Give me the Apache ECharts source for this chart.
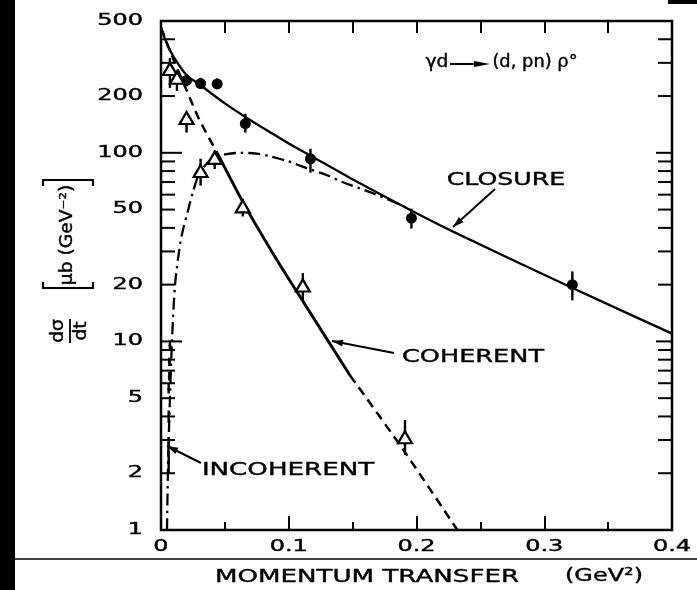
<!DOCTYPE html>
<html>
<head>
<meta charset="utf-8">
<script src="https://cdn.jsdelivr.net/npm/echarts@6/dist/echarts.min.js"></script>
<style>
  html, body { margin: 0; padding: 0; background: #fff; }
  #chart { width: 697px; height: 590px; }
</style>
</head>
<body>
<div id="chart"></div>
<script>
// γd → (d,pn)ρ° : dσ/dt versus momentum transfer t, log scale

// Axis ranges and tick labels
const xMin = 0, xMax = 0.4;
const yMin = 1, yMax = 500;
const xTickLabels = ['0', '0.1', '0.2', '0.3', '0.4'];
const yTickLabels = ['500', '200', '100', '50', '20', '10', '5', '2', '1'];
const yTickValues = [2, 3, 4, 5, 6, 7, 8, 9, 10, 20, 30, 40, 50, 60, 70, 80, 90, 100, 200, 300, 400];

// Closure data (filled circles): t, dσ/dt, error bar low / high
const closureT  = [0.02, 0.031, 0.044, 0.066, 0.117, 0.196, 0.322];
const closureY  = [242, 233, 232, 143, 93, 45, 20];
const closureLo = [225, 218, 218, 128, 78.5, 39.7, 16.5];
const closureHi = [262, 250, 248, 161, 105, 50.6, 23.5];

// Coherent data (open triangles)
const coherentT  = [0.007, 0.0125, 0.02, 0.031, 0.042, 0.064, 0.111, 0.191];
const coherentY  = [278, 250, 153, 80, 94, 52, 19.8, 3.1];
const coherentLo = [221, 213, 128, 67, 82, 46, 16.5, 2.5];
const coherentHi = [318, 265, 163, 93, 103, 57, 23, 3.83];

// Incoherent data near t = 0
const incoherentT  = [0.007, 0.0065, 0.0065, 0.006, 0.006, 0.006, 0.006];
const incoherentY  = [9.5, 7.8, 6.5, 5.6, 4.0, 2.9, 2.3];
const incoherentLo = [9.0, 7.4, 6.2, 5.3, 3.7, 2.75, 2.0];
const incoherentHi = [10.1, 8.2, 6.9, 6.0, 4.3, 3.1, 2.65];

// Model curves
const closureCurveT = [0, 0.005, 0.01, 0.02, 0.03, 0.04, 0.05, 0.066, 0.085, 0.1, 0.117, 0.148, 0.197, 0.229, 0.32, 0.4];
const closureCurveY = [460, 374, 322, 258, 231, 205, 183, 155, 129, 112, 96.6, 73.6, 49, 38.1, 19.5, 11.0];

const coherentCurveT = [0, 0.01, 0.02, 0.03, 0.044, 0.066, 0.088, 0.106, 0.148, 0.189, 0.232];
const coherentCurveY = [460, 310, 215, 150, 100, 52, 29, 18.5, 6.6, 2.7, 1.0];
const coherentSolidFrom = 0.044, coherentSolidTo = 0.148;

const incoherentCurveT = [0.0047, 0.0055, 0.007, 0.0086, 0.011, 0.015, 0.0172, 0.021, 0.025, 0.03, 0.036, 0.042, 0.05, 0.062, 0.075, 0.085, 0.1, 0.114, 0.13, 0.142, 0.166, 0.193];
const incoherentCurveY = [1.0, 2.2, 5, 10, 20, 33, 39, 49, 62, 78, 88, 95, 98, 100, 99, 96, 90, 83, 76, 70, 61, 51];

const FONT = '"DejaVu Sans", "Noto Sans", sans-serif';
const INK = '#000';

const zip = (a, b) => a.map((v, i) => [v, b[i]]);
const zip3 = (a, b, c) => a.map((v, i) => [v, b[i], c[i]]);

const coherentPts = zip(coherentCurveT, coherentCurveY);
const coherentEarly = coherentPts.filter(p => p[0] <= coherentSolidFrom);
const coherentMid = coherentPts.filter(p => p[0] >= coherentSolidFrom && p[0] <= coherentSolidTo);
const coherentLate = coherentPts.filter(p => p[0] >= coherentSolidTo);

function errorBars(params, api) {
  const x = api.value(0);
  const a = api.coord([x, api.value(1)]);
  const b = api.coord([x, api.value(2)]);
  return {
    type: 'line',
    shape: { x1: a[0], y1: a[1], x2: b[0], y2: b[1] },
    style: { stroke: INK, lineWidth: 2.4 }
  };
}

function errorSeries(data) {
  return {
    type: 'custom', renderItem: errorBars, data: data,
    encode: { x: 0, y: [1, 2] }, z: 3, silent: true
  };
}

// Arrowhead polygon pointing at (tx, ty) coming from (fx, fy)
function arrowHead(tx, ty, fx, fy, len, half) {
  const dx = tx - fx, dy = ty - fy;
  const d = Math.hypot(dx, dy);
  const ux = dx / d, uy = dy / d;
  const bx = tx - ux * len, by = ty - uy * len;
  return {
    type: 'polygon',
    shape: { points: [[tx, ty], [bx - uy * half, by + ux * half], [bx + uy * half, by - ux * half]] },
    style: { fill: INK }
  };
}

function leader(x1, y1, x2, y2) {
  return [
    { type: 'line', shape: { x1: x1, y1: y1, x2: x2, y2: y2 }, style: { stroke: INK, lineWidth: 2 } },
    arrowHead(x2, y2, x1, y1, 11, 3.5)
  ];
}

function label(text, x, y, size, sx, align) {
  return {
    type: 'text', x: x, y: y, scaleX: sx,
    style: { text: text, fontSize: size, fontFamily: FONT, fill: INK, align: align || 'center', verticalAlign: 'middle',
             stroke: INK, lineWidth: 0.4 }
  };
}

const chart = echarts.init(document.getElementById('chart'), null, { renderer: 'canvas' });

const option = {
  backgroundColor: '#fff',
  animation: false,
  grid: { left: 161, right: 25, top: 21, bottom: 60, show: true, borderColor: INK, borderWidth: 2.5, backgroundColor: 'transparent' },
  xAxis: [
    {
      type: 'value', position: 'bottom', min: xMin, max: xMax, interval: 0.1,
      axisLine: { show: false },
      axisTick: { show: true, inside: true, length: 14, lineStyle: { color: INK, width: 2 } },
      minorTick: { show: true, splitNumber: 2, length: 8, lineStyle: { color: INK, width: 2 } },
      axisLabel: { show: false }, splitLine: { show: false }, minorSplitLine: { show: false }
    },
    {
      type: 'value', position: 'top', min: xMin, max: xMax, interval: 0.1,
      axisLine: { show: false },
      axisTick: { show: true, inside: true, length: 12, lineStyle: { color: INK, width: 2 } },
      minorTick: { show: true, splitNumber: 2, length: 12, lineStyle: { color: INK, width: 2 } },
      axisLabel: { show: false }, splitLine: { show: false }, minorSplitLine: { show: false }
    }
  ],
  yAxis: {
    type: 'log', logBase: 10, min: yMin, max: yMax,
    axisLine: { show: false }, axisTick: { show: false }, axisLabel: { show: false }, splitLine: { show: false }
  },
  series: [
    // Closure model
    { type: 'line', data: zip(closureCurveT, closureCurveY), smooth: 0.3, symbol: 'none',
      lineStyle: { color: INK, width: 2.3 }, z: 2, silent: true },
    // Coherent model: dashed / solid / dashed
    { type: 'line', data: coherentEarly, smooth: 0.3, symbol: 'none',
      lineStyle: { color: INK, width: 2.5, type: [9, 6] }, z: 2, silent: true },
    { type: 'line', data: coherentMid, smooth: 0.3, symbol: 'none',
      lineStyle: { color: INK, width: 2.9 }, z: 2, silent: true },
    { type: 'line', data: coherentLate, smooth: 0.3, symbol: 'none',
      lineStyle: { color: INK, width: 2.5, type: [9, 6] }, z: 2, silent: true },
    // Incoherent model (dash-dot)
    { type: 'line', data: zip(incoherentCurveT, incoherentCurveY), smooth: 0.3, symbol: 'none',
      lineStyle: { color: INK, width: 2.3, type: [12, 5, 2.5, 5] }, z: 2, silent: true },

    errorSeries(zip3(closureT, closureLo, closureHi)),
    errorSeries(zip3(coherentT, coherentLo, coherentHi)),
    errorSeries(zip3(incoherentT, incoherentLo, incoherentHi)),

    { type: 'scatter', data: zip(closureT, closureY), symbol: 'circle', symbolSize: 11,
      itemStyle: { color: INK, opacity: 1 }, z: 4, silent: true },
    { type: 'scatter', data: zip(coherentT, coherentY), symbol: 'triangle', symbolSize: [14, 12],
      itemStyle: { color: '#fff', borderColor: INK, borderWidth: 2.2, opacity: 1 }, z: 4, silent: true },
    { type: 'scatter', data: zip(incoherentT, incoherentY), symbol: 'circle', symbolSize: 3,
      itemStyle: { color: INK, opacity: 1 }, z: 4, silent: true },

    // Log-axis ticks on the left and right frame edges
    {
      type: 'custom', silent: true, z: 5,
      data: yTickValues.map(v => [xMin, v]),
      renderItem: function (params, api) {
        const v = api.value(1);
        const L = api.coord([xMin, v]);
        const R = api.coord([xMax, v]);
        const decade = Math.abs(Math.log10(v) - Math.round(Math.log10(v))) < 1e-9;
        const lenL = decade ? 21 : 14;
        const lenR = decade ? 16 : 14;
        return {
          type: 'group',
          children: [
            { type: 'line', shape: { x1: L[0], y1: L[1], x2: L[0] + lenL, y2: L[1] }, style: { stroke: INK, lineWidth: 2 } },
            { type: 'line', shape: { x1: R[0], y1: R[1], x2: R[0] - lenR, y2: R[1] }, style: { stroke: INK, lineWidth: 2 } }
          ]
        };
      }
    },
    // y tick labels
    {
      type: 'custom', silent: true, z: 5,
      data: yTickLabels.map(s => [xMin, parseFloat(s)]),
      renderItem: function (params, api) {
        const p = api.coord([xMin, api.value(1)]);
        return label(yTickLabels[params.dataIndex], p[0] - 18, p[1], 15, 1.6, 'right');
      }
    },
    // x tick labels
    {
      type: 'custom', silent: true, z: 5,
      data: xTickLabels.map(s => [parseFloat(s), yMin]),
      renderItem: function (params, api) {
        const p = api.coord([api.value(0), yMin]);
        return label(xTickLabels[params.dataIndex], p[0], p[1] + 17, 15, 1.6, 'center');
      }
    }
  ],
  graphic: [
    // page edges of the print
    { type: 'rect', shape: { x: 0, y: 0, width: 15, height: 590 }, style: { fill: INK }, z: 10 },
    { type: 'rect', shape: { x: 668, y: 0, width: 29, height: 4 }, style: { fill: INK }, z: 10 },
    { type: 'line', shape: { x1: 15, y1: 559, x2: 697, y2: 559 }, style: { stroke: INK, lineWidth: 1.5 }, z: 10 },

    // axis title
    label('MOMENTUM TRANSFER', 367, 577, 18, 1.45),
    label('(GeV²)', 604, 576, 18, 1.33),

    // y axis title: dσ/dt [μb (GeV⁻²)]
    {
      type: 'group', x: 70, y: 331, rotation: Math.PI / 2,
      children: [
        label('dσ', 0, -11, 17, 1.1),
        { type: 'line', shape: { x1: -12, y1: 0, x2: 12, y2: 0 }, style: { stroke: INK, lineWidth: 1.8 } },
        label('dt', 0, 12, 17, 1.1)
      ]
    },
    {
      type: 'group', x: 68, y: 235, rotation: Math.PI / 2,
      children: [
        label('μb (GeV⁻²)', 0, 0, 17, 1.1),
        { type: 'polyline', shape: { points: [[-47, -25], [-53, -25], [-53, 25], [-47, 25]] }, style: { stroke: INK, lineWidth: 2.2, fill: null } },
        { type: 'polyline', shape: { points: [[49, -25], [55, -25], [55, 25], [49, 25]] }, style: { stroke: INK, lineWidth: 2.2, fill: null } }
      ]
    },

    // reaction
    label('γd', 437, 63, 17, 1.1),
    { type: 'line', shape: { x1: 450, y1: 64, x2: 476, y2: 64 }, style: { stroke: INK, lineWidth: 2 } },
    arrowHead(490, 64, 450, 64, 16, 3),
    label('(d, pn) ρ°', 535, 63, 17, 1.05),

    // curve labels with leaders
    label('CLOSURE', 506, 180, 18, 1.4),
    ...leader(495, 189, 453, 227),
    label('COHERENT', 473, 357, 18, 1.42),
    ...leader(394, 353, 332, 341),
    label('INCOHERENT', 288, 470, 18, 1.45),
    ...leader(201, 463, 167, 446)
  ]
};

chart.setOption(option);
</script>
</body>
</html>
